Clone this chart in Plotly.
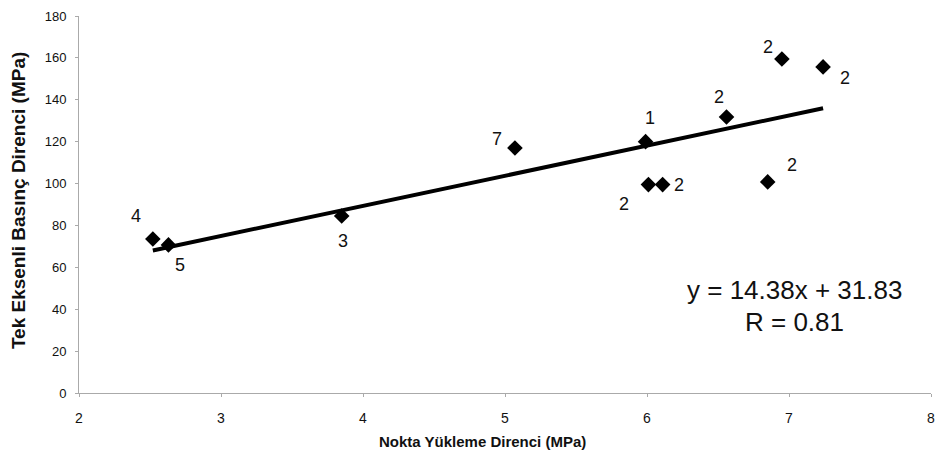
import plotly.graph_objects as go

# Data
x_vals = [2.52, 2.63, 3.85, 5.07, 5.99, 6.01, 6.11, 6.56, 6.95, 7.24, 6.85]
y_vals = [73.5, 70.7, 84.5, 117.0, 120.0, 99.5, 99.5, 131.8, 159.5, 155.7, 100.8]
point_labels = ["4", "5", "3", "7", "1", "2", "2", "2", "2", "2", "2"]
slope = 14.38
intercept = 31.83
r_value = 0.81
x_ticks = [2, 3, 4, 5, 6, 7, 8]
y_ticks = [0, 20, 40, 60, 80, 100, 120, 140, 160, 180]
x_title = "Nokta Yükleme Direnci (MPa)"
y_title = "Tek Eksenli Basınç Direnci (MPa)"

# label offsets in pixels (dx, dy up)
label_offsets = [(-17, 23), (12, -20), (1, -25), (-18, 9), (4, 24), (-24, -19),
                 (16, 0), (-8, 20), (-14, 12), (22, -11), (24, 17)]

FONT = "Liberation Sans, Arial"

fig = go.Figure()

x_line = [min(x_vals), max(x_vals)]
y_line = [slope * v + intercept for v in x_line]
fig.add_trace(go.Scatter(x=x_line, y=y_line, mode="lines",
                         line=dict(color="black", width=4), hoverinfo="skip"))
fig.add_trace(go.Scatter(x=x_vals, y=y_vals, mode="markers",
                         marker=dict(symbol="diamond", color="black", size=12)))

for xv, yv, lab, (dx, dy) in zip(x_vals, y_vals, point_labels, label_offsets):
    fig.add_annotation(x=xv, y=yv, text=lab, showarrow=False, xshift=dx, yshift=dy,
                       font=dict(family=FONT, size=18, color="#111"))

fig.add_annotation(x=7.04, y=49.2, text=f"y = {slope:.2f}x + {intercept:.2f}", showarrow=False,
                   font=dict(family=FONT, size=26, color="#111"))
fig.add_annotation(x=7.04, y=33.9, text=f"R = {r_value:.2f}", showarrow=False,
                   font=dict(family=FONT, size=26, color="#111"))

# axis titles
fig.add_annotation(xref="paper", yref="paper", x=0.474, y=0, yshift=-48,
                   xanchor="center", yanchor="middle",
                   text=f"<b>{x_title}</b>", showarrow=False,
                   font=dict(family=FONT, size=15, color="#111"))
fig.add_annotation(xref="paper", yref="paper", x=0, xshift=-61, y=0.509,
                   xanchor="center", yanchor="middle",
                   text=f"<b>{y_title}</b>", showarrow=False, textangle=-90,
                   font=dict(family=FONT, size=19, color="#111"))

axis_common = dict(showgrid=False, zeroline=False, showline=True, linecolor="#aaa",
                   linewidth=1, ticks="outside", ticklen=3, tickcolor="#aaa",
                   automargin=False, ticklabeloverflow="allow")

fig.update_layout(
    width=935, height=464,
    margin=dict(l=79, r=4, t=16, b=71),
    paper_bgcolor="white", plot_bgcolor="white",
    showlegend=False,
    xaxis=dict(range=[2, 8], tickvals=x_ticks, ticklabelstandoff=9,
               tickfont=dict(family=FONT, size=14, color="#111"), **axis_common),
    yaxis=dict(range=[0, 180], tickvals=y_ticks, ticklabelstandoff=6,
               tickfont=dict(family=FONT, size=13, color="#111"), **axis_common),
)

fig.write_html("out.html")
